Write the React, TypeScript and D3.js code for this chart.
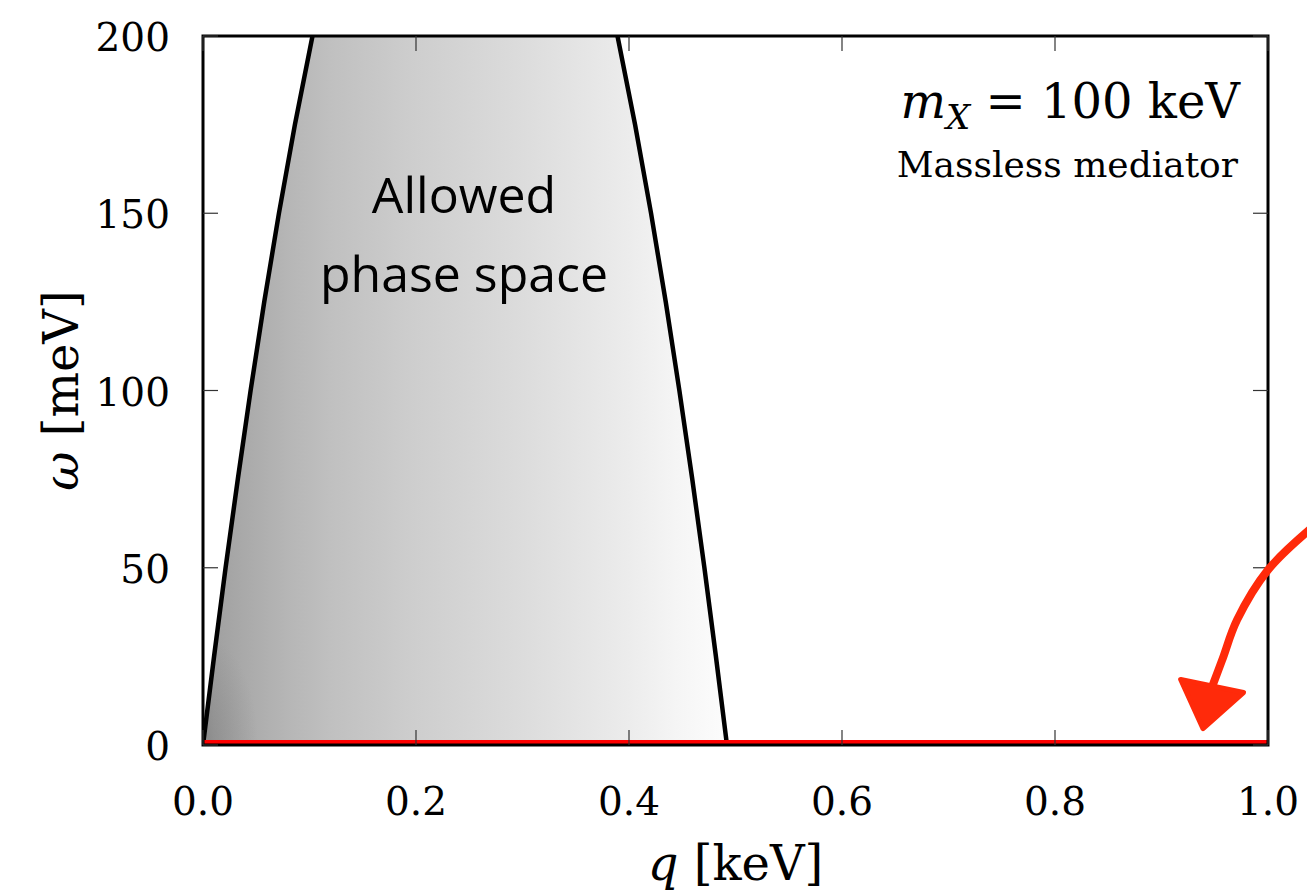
import React, { useEffect, useRef } from 'react'
import * as d3 from 'd3'

// axis ticks
const xTicks = [0, 0.2, 0.4, 0.6, 0.8, 1.0]
const yTicks = [0, 50, 100, 150, 200]

// kinematic boundary of allowed region (q in keV, omega in meV)
const omegaLevels = [0, 25, 50, 75, 100, 125, 150, 175, 200]
const qLower = [0, 0.0104, 0.0212, 0.0327, 0.0447, 0.0575, 0.0713, 0.0863, 0.1028]
const qUpper = [0.492, 0.4816, 0.4708, 0.4594, 0.4473, 0.4345, 0.4207, 0.4057, 0.3892]

// grey shading across q
const shadeQ = [0, 0.01, 0.04, 0.08, 0.12, 0.2, 0.3, 0.4, 0.45, 0.49]
const shadeGrey = [150, 160, 170, 182, 192, 206, 220, 236, 246, 252]

// hand drawn arrow (q, omega)
const arrowQ = [1.04, 1.0, 0.971, 0.957, 0.947]
const arrowW = [61, 49.4, 35.3, 24.0, 16]
const headQ = [0.918, 0.977, 0.939]
const headW = [18.5, 14.8, 4.6]

const W = 1307
const H = 893
const margin = { left: 203, right: 39, top: 36, bottom: 148 }

const App = () => {
  const ref = useRef<SVGSVGElement>(null)

  useEffect(() => {
    const svg = d3.select(ref.current)
    svg.selectAll('*').remove()

    const x = d3.scaleLinear().domain([0, 1]).range([margin.left, W - margin.right])
    const y = d3.scaleLinear().domain([0, 200]).range([H - margin.bottom, margin.top])

    const serif = '"DejaVu Serif", "Liberation Serif", serif'

    const defs = svg.append('defs')
    const grad = defs
      .append('linearGradient')
      .attr('id', 'shade')
      .attr('gradientUnits', 'userSpaceOnUse')
      .attr('x1', x(0))
      .attr('x2', x(shadeQ[shadeQ.length - 1]))
      .attr('y1', 0)
      .attr('y2', 0)
    shadeQ.forEach((q, i) => {
      const g = shadeGrey[i]
      grad
        .append('stop')
        .attr('offset', q / shadeQ[shadeQ.length - 1])
        .attr('stop-color', d3.rgb(g, g, g).toString())
    })
    // darker band near origin
    const rad = defs
      .append('radialGradient')
      .attr('id', 'corner')
      .attr('gradientUnits', 'userSpaceOnUse')
      .attr('cx', x(0))
      .attr('cy', y(0))
      .attr('r', 110)
      .attr('gradientTransform', `translate(${x(0)},${y(0)}) scale(0.5,1) translate(${-x(0)},${-y(0)})`)
    rad.append('stop').attr('offset', 0).attr('stop-color', '#777').attr('stop-opacity', 0.45)
    rad.append('stop').attr('offset', 1).attr('stop-color', '#777').attr('stop-opacity', 0)

    defs
      .append('clipPath')
      .attr('id', 'plotclip')
      .append('rect')
      .attr('x', x(0))
      .attr('y', y(200))
      .attr('width', x(1) - x(0))
      .attr('height', y(0) - y(200))

    const region = omegaLevels.map((w, i) => ({ w, lo: qLower[i], hi: qUpper[i] }))
    const area = d3
      .area<{ w: number; lo: number; hi: number }>()
      .y((d) => y(d.w))
      .x0((d) => x(d.lo))
      .x1((d) => x(d.hi))
      .curve(d3.curveMonotoneY)

    const plot = svg.append('g').attr('clip-path', 'url(#plotclip)')
    plot.append('path').datum(region).attr('d', area).attr('fill', 'url(#shade)')
    plot.append('path').datum(region).attr('d', area).attr('fill', 'url(#corner)')

    const line = d3
      .line<{ w: number; q: number }>()
      .x((d) => x(d.q))
      .y((d) => y(d.w))
      .curve(d3.curveMonotoneY)
    ;[qLower, qUpper].forEach((qs) => {
      plot
        .append('path')
        .datum(omegaLevels.map((w, i) => ({ w, q: qs[i] })))
        .attr('d', line)
        .attr('fill', 'none')
        .attr('stroke', '#000')
        .attr('stroke-width', 4.5)
    })

    // omega = 0 line
    plot
      .append('line')
      .attr('x1', x(0))
      .attr('x2', x(1))
      .attr('y1', y(0) - 2.5)
      .attr('y2', y(0) - 2.5)
      .attr('stroke', '#ff0000')
      .attr('stroke-width', 5)

    // frame
    svg
      .append('rect')
      .attr('x', x(0))
      .attr('y', y(200))
      .attr('width', x(1) - x(0))
      .attr('height', y(0) - y(200))
      .attr('fill', 'none')
      .attr('stroke', '#000')
      .attr('stroke-width', 3)

    // inward ticks on all sides
    const tickLen = 15
    const tickCol = '#333'
    xTicks.forEach((t) => {
      svg.append('line').attr('x1', x(t)).attr('x2', x(t)).attr('y1', y(0)).attr('y2', y(0) - tickLen).attr('stroke', tickCol).attr('stroke-width', 1.2)
      svg.append('line').attr('x1', x(t)).attr('x2', x(t)).attr('y1', y(200)).attr('y2', y(200) + tickLen).attr('stroke', tickCol).attr('stroke-width', 1.2)
      svg
        .append('text')
        .attr('x', x(t))
        .attr('y', y(0) + 70)
        .attr('text-anchor', 'middle')
        .attr('font-family', serif)
        .attr('font-size', 39)
        .text(t.toFixed(1))
    })
    yTicks.forEach((t) => {
      svg.append('line').attr('x1', x(0)).attr('x2', x(0) + tickLen).attr('y1', y(t)).attr('y2', y(t)).attr('stroke', tickCol).attr('stroke-width', 1.2)
      svg.append('line').attr('x1', x(1)).attr('x2', x(1) - tickLen).attr('y1', y(t)).attr('y2', y(t)).attr('stroke', tickCol).attr('stroke-width', 1.2)
      svg
        .append('text')
        .attr('x', x(0) - 33)
        .attr('y', y(t) + 15)
        .attr('text-anchor', 'end')
        .attr('font-family', serif)
        .attr('font-size', 39)
        .text(String(t))
    })

    // axis labels
    const xl = svg
      .append('text')
      .attr('x', (x(0) + x(1)) / 2)
      .attr('y', 880)
      .attr('text-anchor', 'middle')
      .attr('font-family', serif)
      .attr('font-size', 48)
    xl.append('tspan').attr('font-style', 'italic').text('q')
    xl.append('tspan').text(' [keV]')

    const yl = svg
      .append('text')
      .attr('transform', `translate(78, ${(y(0) + y(200)) / 2}) rotate(-90)`)
      .attr('text-anchor', 'middle')
      .attr('font-family', serif)
      .attr('font-size', 48)
    yl.append('tspan').attr('font-style', 'italic').text('ω')
    yl.append('tspan').text(' [meV]')

    // annotation top right
    const ann = svg
      .append('text')
      .attr('x', 1240)
      .attr('y', 118)
      .attr('text-anchor', 'end')
      .attr('font-family', serif)
      .attr('font-size', 48)
    ann.append('tspan').attr('font-style', 'italic').text('m')
    ann.append('tspan').attr('font-style', 'italic').attr('font-size', 34).attr('dy', 11).text('X')
    ann.append('tspan').attr('dy', -11).text(' = 100 keV')
    svg
      .append('text')
      .attr('x', 1238)
      .attr('y', 177)
      .attr('text-anchor', 'end')
      .attr('font-family', serif)
      .attr('font-size', 36)
      .text('Massless mediator')

    // region label
    const sans = '"Open Sans", Lato, sans-serif'
    ;['Allowed', 'phase space'].forEach((s, i) => {
      svg
        .append('text')
        .attr('x', 464)
        .attr('y', 213 + i * 79)
        .attr('text-anchor', 'middle')
        .attr('font-family', sans)
        .attr('font-size', 50)
        .attr('fill', '#000')
        .text(s)
    })

    // red hand-drawn arrow
    const arrowLine = d3
      .line<number>()
      .x((d) => x(arrowQ[d]))
      .y((d) => y(arrowW[d]))
      .curve(d3.curveCatmullRom)
    svg
      .append('path')
      .attr('d', arrowLine(d3.range(arrowQ.length)))
      .attr('fill', 'none')
      .attr('stroke', '#ff2a0a')
      .attr('stroke-width', 8)
      .attr('stroke-linecap', 'round')
    svg
      .append('path')
      .attr('d', d3.line()(headQ.map((q, i) => [x(q), y(headW[i])])) + 'Z')
      .attr('fill', '#ff2a0a')
      .attr('stroke', '#ff2a0a')
      .attr('stroke-width', 5)
      .attr('stroke-linejoin', 'round')
  }, [])

  return (
    <div style={{ position: 'absolute', left: 0, top: 0 }}>
      <svg ref={ref} width={W} height={H} style={{ display: 'block', background: '#fff' }} />
    </div>
  )
}

export default App
